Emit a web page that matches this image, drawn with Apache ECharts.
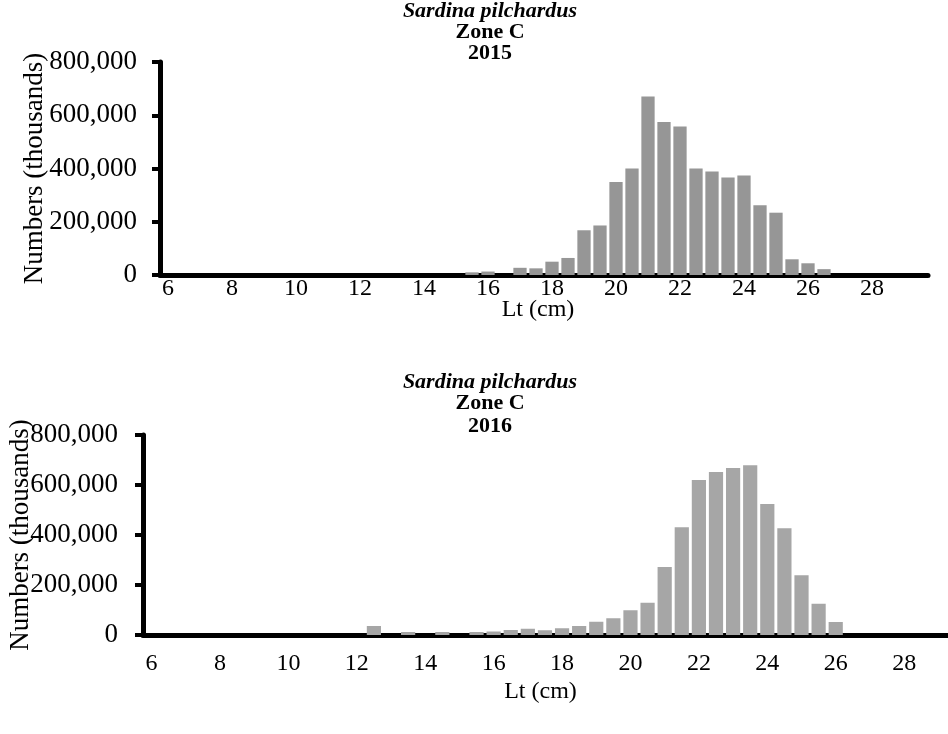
<!DOCTYPE html>
<html>
<head>
<meta charset="utf-8">
<script src="https://cdn.jsdelivr.net/npm/echarts@6/dist/echarts.min.js"></script>
<style>
  html, body { margin: 0; padding: 0; background: #fff; }
  #main { width: 948px; height: 734px; }
</style>
</head>
<body>
<div id="main"></div>
<script>
// classes de taille (cm), pas de 0.5
const lengthClasses = [];
for (let i = 0; i < 48; i++) lengthClasses.push(String(6 + i * 0.5));

// effectifs 2015 (milliers), de 6 à 29.5 cm
const numbers2015 = [
  0, 0, 0, 0, 0, 0, 0, 0,            // 6 - 9.5
  0, 0, 0, 0, 0, 0, 0, 0,            // 10 - 13.5
  0, 0, 0, 10000, 13000, 0, 27000, 25000, // 14 - 17.5
  50000, 64000, 168000, 186000, 349000, 400000, 670000, 575000, // 18 - 21.5
  558000, 400000, 389000, 366000, 374000, 262000, 234000, 59000, // 22 - 25.5
  44000, 22000, 0, 0, 0, 0, 0, 0     // 26 - 29.5
];

// effectifs 2016 (milliers)
const numbers2016 = [
  0, 0, 0, 0, 0, 0, 0, 0,
  0, 0, 0, 0, 0, 36000, 0, 12000,
  0, 12000, 0, 12000, 14000, 20000, 25000, 19000,
  27000, 36000, 53000, 67000, 99000, 129000, 272000, 431000,
  620000, 652000, 668000, 679000, 524000, 427000, 239000, 125000,
  52000, 0, 0, 0, 0, 0, 0, 0
];

const yTicks = [0, 200000, 400000, 600000, 800000];

const font = "Liberation Serif";
const chart = echarts.init(document.getElementById("main"));

function titleLines(year, tops) {
  const style = { fontFamily: font, fontSize: 22, fontWeight: "bold", color: "#000" };
  return [
    { text: "Sardina pilchardus", left: 485, top: tops[0], textAlign: "center",
      textStyle: Object.assign({}, style, { fontStyle: "italic" }) },
    { text: "Zone C", left: 485, top: tops[1], textAlign: "center", textStyle: style },
    { text: year, left: 485, top: tops[2], textAlign: "center", textStyle: style }
  ];
}

function xAxisFor(gridIndex, labelMargin, nameGap, namePad) {
  return {
    type: "category",
    gridIndex: gridIndex,
    data: lengthClasses,
    boundaryGap: true,
    name: "Lt (cm)",
    nameLocation: "middle",
    nameGap: nameGap,
    nameMoveOverlap: false,
    nameTextStyle: { fontFamily: font, fontSize: 24, color: "#000", padding: [0, namePad, 0, 0] },
    axisLine: { lineStyle: { color: "#000", width: 5 } },
    axisTick: { interval: 3, length: 8, lineStyle: { color: "#000", width: 4 } },
    axisLabel: { interval: 3, margin: labelMargin, fontFamily: font, fontSize: 24, color: "#000" },
    splitLine: { show: false }
  };
}

function yAxisFor(gridIndex, labelMargin, nameGap) {
  return {
    type: "value",
    gridIndex: gridIndex,
    min: yTicks[0],
    max: yTicks[yTicks.length - 1],
    interval: 200000,
    name: "Numbers (thousands)",
    nameLocation: "middle",
    nameRotate: 90,
    nameGap: nameGap,
    nameMoveOverlap: false,
    nameTextStyle: { fontFamily: font, fontSize: 27, color: "#000" },
    axisLine: { show: true, lineStyle: { color: "#000", width: 5 } },
    axisTick: { show: true, length: 8, lineStyle: { color: "#000", width: 4 } },
    axisLabel: {
      margin: labelMargin, fontFamily: font, fontSize: 27, color: "#000",
      formatter: (v) => String(v).replace(/\B(?=(\d{3})+(?!\d))/g, ",")
    },
    splitLine: { show: false }
  };
}

const option = {
  animation: false,
  backgroundColor: "#fff",
  title: titleLines("2015", [-5, 16, 37]).concat(titleLines("2016", [366, 387, 410])),
  grid: [
    { left: 160, top: 62, width: 768, height: 213, outerBoundsMode: "none" },
    { left: 143, top: 435, width: 821, height: 200, outerBoundsMode: "none" }
  ],
  xAxis: [xAxisFor(0, 2, 23, 12), xAxisFor(1, 17, 45, 26)],
  yAxis: [yAxisFor(0, 23, 112), yAxisFor(1, 25, 109)],
  series: [
    {
      name: "2015", type: "bar", xAxisIndex: 0, yAxisIndex: 0,
      data: numbers2015, barCategoryGap: "17%",
      itemStyle: { color: "#969696" }
    },
    {
      name: "2016", type: "bar", xAxisIndex: 1, yAxisIndex: 1,
      data: numbers2016, barCategoryGap: "17%",
      itemStyle: { color: "#a6a6a6" }
    }
  ]
};

chart.setOption(option);
</script>
</body>
</html>
